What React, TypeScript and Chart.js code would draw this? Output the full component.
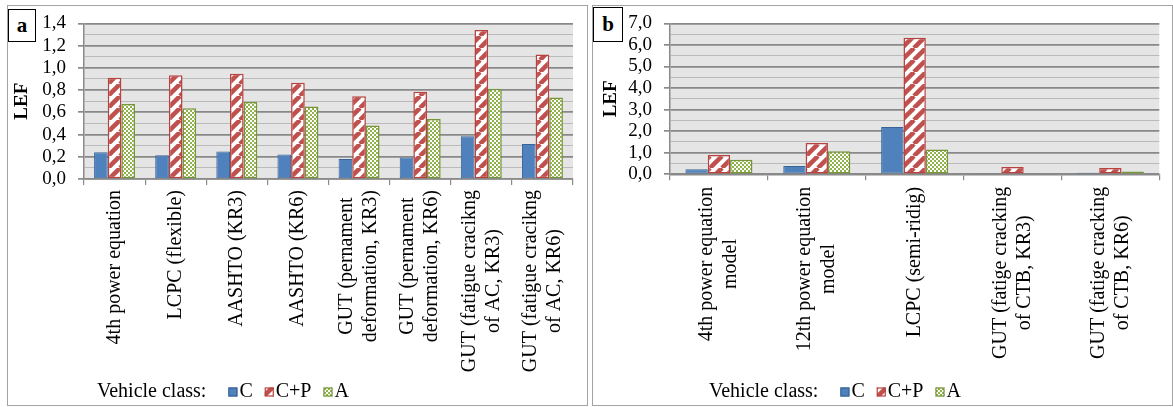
import React, { useEffect, useRef } from 'react';
import { Chart, registerables } from 'chart.js';

Chart.register(...registerables);

const FONT = '"Liberation Serif", "Times New Roman", serif';

// ---------- data ----------
const seriesNames = ['C', 'C+P', 'A'];

const categoriesA: (string | string[])[] = [
  '4th power equation',
  'LCPC (flexible)',
  'AASHTO (KR3)',
  'AASHTO (KR6)',
  ['GUT (pernament', 'deformation, KR3)'],
  ['GUT (pernament', 'deformation, KR6)'],
  ['GUT (fatigue cracikng', 'of AC, KR3)'],
  ['GUT (fatigue cracikng', 'of AC, KR6)'],
];
const valuesA_C = [0.24, 0.214, 0.247, 0.22, 0.179, 0.194, 0.384, 0.314];
const valuesA_CP = [0.91, 0.933, 0.948, 0.866, 0.745, 0.784, 1.341, 1.121];
const valuesA_A = [0.675, 0.637, 0.693, 0.652, 0.481, 0.54, 0.813, 0.734];

const categoriesB: (string | string[])[] = [
  ['4th power equation', 'model'],
  ['12th power equation', 'model'],
  'LCPC (semi-ridig)',
  ['GUT (fatige cracking', 'of CTB, KR3)'],
  ['GUT (fatige cracking', 'of CTB, KR6)'],
];
const valuesB_C = [0.24, 0.385, 2.19, 0.02, 0.074];
const valuesB_CP = [0.89, 1.45, 6.335, 0.34, 0.296];
const valuesB_A = [0.67, 1.066, 1.155, 0.02, 0.133];

const yMaxA = 1.4;
const yStepA = 0.1;
const yMajorA = 0.2;
const yMaxB = 7;
const yStepB = 0.5;
const yMajorB = 1;

const legendTitle = 'Vehicle class:';
const axisTitle = 'LEF';

// ---------- styles ----------
const BLUE = '#4f81bd';
const BLUE_D = '#3a6496';
const RED = '#c0504d';
const RED_D = '#b8423f';
const GREEN = '#8fb24a';
const GREEN_D = '#77963a';
const AXIS = '#8a8a8a';
const MAJOR = '#888888';
const MINOR = '#bababa';
const PLOT_BG = '#e5e5e5';

function makeStripe(): CanvasPattern | string {
  const s = 12;
  const c = document.createElement('canvas');
  c.width = s;
  c.height = s;
  const t = c.getContext('2d');
  if (!t) return RED;
  t.fillStyle = '#ffffff';
  t.fillRect(0, 0, s, s);
  t.strokeStyle = RED;
  t.lineWidth = 4.5;
  for (let k = -1; k <= 1; k++) {
    t.beginPath();
    t.moveTo(k * s, s);
    t.lineTo(k * s + s, 0);
    t.stroke();
  }
  return t.createPattern(c, 'repeat') || RED;
}

function makeChecker(): CanvasPattern | string {
  const c = document.createElement('canvas');
  c.width = 4;
  c.height = 4;
  const t = c.getContext('2d');
  if (!t) return GREEN;
  t.fillStyle = '#ffffff';
  t.fillRect(0, 0, 4, 4);
  t.fillStyle = GREEN;
  t.fillRect(0, 0, 2, 2);
  t.fillRect(2, 2, 2, 2);
  return t.createPattern(c, 'repeat') || GREEN;
}

type PanelCfg = {
  cats: (string | string[])[];
  c: number[];
  cp: number[];
  a: number[];
  max: number;
  step: number;
  major: number;
  top: number;
  right: number;
  yWidth: number;
  xHeight: number;
  catPct: number;
  titlePad: number;
  labelGap: number;
  legendX: number;
  legendY: number;
};

const isMajor = (v: number, major: number) =>
  Math.abs(v / major - Math.round(v / major)) < 1e-6;

function buildChart(canvas: HTMLCanvasElement, p: PanelCfg) {
  const stripe = makeStripe();
  const checker = makeChecker();
  const fills = [BLUE, stripe, checker];
  const strokes = [BLUE_D, RED_D, GREEN_D];

  const bgPlugin = {
    id: 'plotBg',
    beforeDraw(chart: any) {
      const { ctx, chartArea } = chart;
      ctx.save();
      ctx.fillStyle = PLOT_BG;
      ctx.fillRect(chartArea.left, chartArea.top, chartArea.right - chartArea.left, chartArea.bottom - chartArea.top);
      ctx.restore();
    },
  };

  const LH = 24;
  const xLabelPlugin = {
    id: 'xLabels',
    afterDraw(chart: any) {
      const ctx = chart.ctx;
      const xs = chart.scales.x;
      ctx.save();
      ctx.font = `20px ${FONT}`;
      ctx.fillStyle = '#000';
      ctx.textAlign = 'center';
      ctx.textBaseline = 'middle';
      p.cats.forEach((lab, i) => {
        const lines = Array.isArray(lab) ? lab : [lab];
        const cx = xs.getPixelForValue(i);
        const W = Math.max(...lines.map((l) => ctx.measureText(l).width));
        const cy = xs.top + p.labelGap + W / 2;
        lines.forEach((l, j) => {
          ctx.save();
          ctx.translate(cx + (j - (lines.length - 1) / 2) * LH, cy);
          ctx.rotate(-Math.PI / 2);
          ctx.fillText(l, 0, 0);
          ctx.restore();
        });
      });
      ctx.restore();
    },
  };

  const legendPlugin = {
    id: 'customLegend',
    afterDraw(chart: any) {
      const ctx = chart.ctx;
      ctx.save();
      ctx.font = `20px ${FONT}`;
      ctx.fillStyle = '#000';
      ctx.textAlign = 'left';
      ctx.textBaseline = 'middle';
      let x = p.legendX;
      const y = p.legendY;
      ctx.fillText(legendTitle, x, y);
      x += ctx.measureText(legendTitle).width + 22;
      seriesNames.forEach((name, i) => {
        const bs = 9;
        ctx.fillStyle = fills[i] as any;
        ctx.fillRect(x, y - bs / 2, bs, bs);
        ctx.strokeStyle = strokes[i];
        ctx.lineWidth = 1.2;
        ctx.strokeRect(x + 0.5, y - bs / 2 + 0.5, bs - 1, bs - 1);
        x += bs + 2;
        ctx.fillStyle = '#000';
        ctx.fillText(name, x, y);
        x += ctx.measureText(name).width + 12;
      });
      ctx.restore();
    },
  };

  const labels = p.cats.map((c) => (Array.isArray(c) ? c.join(' ') : c));
  const seriesData = [p.c, p.cp, p.a];

  return new Chart(canvas, {
    type: 'bar',
    data: {
      labels,
      datasets: seriesNames.map((name, i) => ({
        label: name,
        data: seriesData[i],
        backgroundColor: fills[i] as any,
        borderColor: strokes[i],
        borderWidth: i === 0 ? 1 : 1.5,
        borderSkipped: false,
        categoryPercentage: p.catPct,
        barPercentage: 1,
      })),
    },
    options: {
      responsive: false,
      animation: false,
      devicePixelRatio: 1,
      layout: { padding: { left: 0, top: p.top, right: p.right, bottom: 0 } },
      plugins: {
        legend: { display: false },
        tooltip: { enabled: false },
      },
      scales: {
        x: {
          ticks: { display: false },
          grid: {
            drawOnChartArea: false,
            drawTicks: true,
            tickLength: 6,
            color: AXIS,
            lineWidth: 1.2,
            offset: true,
          },
          border: { display: true, color: AXIS, width: 1.5 },
          afterFit: (s: any) => {
            s.height = p.xHeight;
          },
        },
        y: {
          min: 0,
          max: p.max,
          ticks: {
            stepSize: p.step,
            autoSkip: false,
            padding: 12,
            color: '#000',
            font: { family: FONT, size: 19 },
            callback: (v: any) => {
              const n = Number(v);
              return isMajor(n, p.major) ? n.toFixed(1).replace('.', ',') : '';
            },
          },
          grid: {
            color: (ctx: any) => (isMajor(ctx.tick ? ctx.tick.value : 0, p.major) ? MAJOR : MINOR),
            lineWidth: (ctx: any) => (isMajor(ctx.tick ? ctx.tick.value : 0, p.major) ? 1.7 : 1),
            tickColor: (ctx: any) =>
              isMajor(ctx.tick ? ctx.tick.value : 0, p.major) ? AXIS : 'rgba(0,0,0,0)',
            tickLength: 6,
            drawTicks: true,
          },
          border: { display: true, color: AXIS, width: 1.5 },
          title: {
            display: true,
            text: axisTitle,
            color: '#000',
            font: { family: FONT, size: 19, weight: 'bold' },
            padding: { top: p.titlePad, bottom: 0 },
          },
          afterFit: (s: any) => {
            s.width = p.yWidth;
          },
        },
      },
    },
    plugins: [bgPlugin, xLabelPlugin, legendPlugin],
  } as any);
}

function Panel(props: { cfg: PanelCfg; width: number; height: number; left: number }) {
  const ref = useRef<HTMLCanvasElement | null>(null);
  useEffect(() => {
    if (!ref.current) return;
    const chart = buildChart(ref.current, props.cfg);
    return () => chart.destroy();
  }, []);
  return (
    <canvas
      ref={ref}
      width={props.width}
      height={props.height}
      style={{ position: 'absolute', left: props.left, top: 0, width: props.width, height: props.height, display: 'block' }}
    />
  );
}

const cfgA: PanelCfg = {
  cats: categoriesA,
  c: valuesA_C,
  cp: valuesA_CP,
  a: valuesA_A,
  max: yMaxA,
  step: yStepA,
  major: yMajorA,
  top: 20,
  right: 17,
  yWidth: 84,
  xHeight: 228,
  catPct: 0.67,
  titlePad: 11,
  labelGap: 11,
  legendX: 97,
  legendY: 392,
};

const cfgB: PanelCfg = {
  cats: categoriesB,
  c: valuesB_C,
  cp: valuesB_CP,
  a: valuesB_A,
  max: yMaxB,
  step: yStepB,
  major: yMajorB,
  top: 16.7,
  right: 13.7,
  yWidth: 80,
  xHeight: 232.7,
  catPct: 0.685,
  titlePad: 10,
  labelGap: 12.5,
  legendX: 119,
  legendY: 392,
};

const boxStyle: React.CSSProperties = {
  position: 'absolute',
  border: '1px solid #000',
  background: '#fff',
  fontFamily: FONT,
  fontWeight: 'bold',
  fontSize: 21,
  display: 'flex',
  alignItems: 'center',
  justifyContent: 'center',
  boxSizing: 'border-box',
  lineHeight: 1,
};

export default function App() {
  return (
    <div
      style={{
        position: 'absolute',
        left: 0,
        top: 0,
        width: 1173,
        height: 407,
        background: '#fff',
        overflow: 'hidden',
      }}
    >
      <Panel cfg={cfgA} width={590} height={407} left={0} />
      <Panel cfg={cfgB} width={583} height={407} left={590} />
      <div
        style={{
          position: 'absolute',
          left: 7,
          top: 5,
          width: 581,
          height: 401,
          border: '1px solid #a3a3a3',
          boxSizing: 'border-box',
          pointerEvents: 'none',
        }}
      />
      <div
        style={{
          position: 'absolute',
          left: 592,
          top: 5,
          width: 581,
          height: 401,
          border: '1px solid #a3a3a3',
          boxSizing: 'border-box',
          pointerEvents: 'none',
        }}
      />
      <div style={{ ...boxStyle, left: 8, top: 9, width: 28, height: 33 }}>a</div>
      <div style={{ ...boxStyle, left: 593, top: 7, width: 30, height: 35 }}>b</div>
    </div>
  );
}
